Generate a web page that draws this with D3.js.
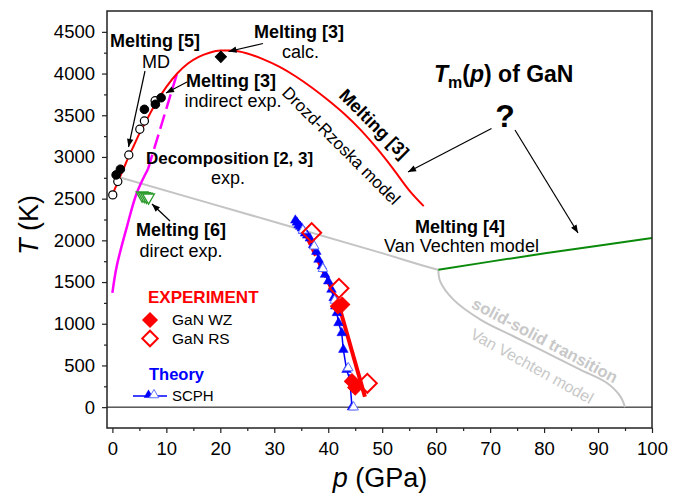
<!DOCTYPE html>
<html>
<head>
<meta charset="utf-8">
<script src="https://cdn.jsdelivr.net/npm/d3@7"></script>
<style>
body { margin: 0; background: #fff; }
text { font-family: "Liberation Sans", Arial, sans-serif; }
</style>
</head>
<body>
<div id="chart"></div>
<script>
const w = 681;
const h = 495;

// melting curve, Drozd-Rzoska model [3]
const drozdP = [0, 1, 2, 3, 4, 5, 6, 8, 10, 12, 14, 16, 18, 20, 22, 25, 28, 31, 34, 37, 40, 43, 46, 49, 52, 55, 57.7];
const drozdT = [2545, 2700, 2850, 3000, 3140, 3280, 3400, 3640, 3840, 4000, 4120, 4200, 4250, 4275, 4275, 4240, 4170, 4080, 3965, 3830, 3680, 3515, 3325, 3105, 2860, 2600, 2410];

// decomposition [2, 3]
const decompP = [0, 0.8, 2.7, 4.5, 6.6];
const decompT = [1370, 1690, 2165, 2565, 2855];
const decompDashP = [6.6, 12.0];
const decompDashT = [2855, 4005];

// Van Vechten model
const vvLowP = [0, 32, 49, 58, 60.4];
const vvLowT = [2780, 2184, 1865, 1690, 1648];
const ssP = [60.4, 60.75, 63.2, 68.2, 74.3, 80.5, 86.7, 91.6, 94.1, 95.0];
const ssT = [1648, 1508, 1289, 1050, 850, 651, 450, 292, 132, 0];
const vvMeltP = [60.4, 70, 80.5, 90, 100];
const vvMeltT = [1648, 1745, 1848, 1935, 2027];

// melting points
const mdP = [0.07, 1.0, 3.04, 5.08, 5.93, 7.92];
const mdT = [2545, 2705, 3024, 3332, 3431, 3674];
const indP = [0.69, 1.48, 5.93, 7.97, 9.03];
const indT = [2785, 2853, 3571, 3631, 3710];
const calcP = [20.1];
const calcT = [4200];
const directP = [5.5, 5.9, 6.3, 6.7];
const directT = [2540, 2532, 2525, 2515];

// experiment
const wzP = [41.8, 42.6, 44.4, 45.0];
const wzT = [1210, 1230, 310, 235];
const wzFitP = [41.87, 46.8];
const wzFitT = [1245, 125];
const rsFitP = [36.0, 41.87];
const rsFitT = [2044, 1245];
const rsP = [36.93, 41.99, 47.24];
const rsT = [2092, 1425, 286];

// theory, SCPH
const scphP = [33.9, 34.2, 34.5, 34.8, 35.1, 35.4, 35.7, 36.1, 36.6, 37.2, 37.8, 38.2, 38.8, 39.4, 40.0, 40.6, 41.0, 41.3, 41.6, 41.9, 42.5, 42.8, 43.4, 44.0, 44.4];
const scphT = [2240, 2215, 2185, 2165, 2145, 2115, 2085, 2060, 2025, 1945, 1865, 1770, 1690, 1590, 1510, 1410, 1310, 1210, 1130, 1010, 890, 690, 450, 330, 0];
const scphOpenP = [35.3, 37.4, 39.0, 41.2, 43.7, 44.7];
const scphOpenT = [2120, 1930, 1660, 1280, 470, 0];

const xTicks = [0, 10, 20, 30, 40, 50, 60, 70, 80, 90, 100];
const yTicks = [0, 500, 1000, 1500, 2000, 2500, 3000, 3500, 4000, 4500];

function zip(a, b) {
    return a.map(function(d, i) { return [d, b[i]]; });
}

var x = d3.scaleLinear().domain([-1, 100]).range([107, 652]);
var y = d3.scaleLinear().domain([-250, 4750]).range([428, 11]);

var svg = d3.select("#chart")
    .append("svg")
    .attr("width", w)
    .attr("height", h);

svg.append("defs").append("marker")
    .attr("id", "arrow")
    .attr("viewBox", "0 0 10 10")
    .attr("refX", 10).attr("refY", 5)
    .attr("markerUnits", "userSpaceOnUse")
    .attr("markerWidth", 10).attr("markerHeight", 8)
    .attr("orient", "auto")
    .append("path")
    .attr("d", "M0,1 L10,5 L0,9 Z")
    .attr("fill", "#000");

var line = d3.line().x(function(d) { return x(d[0]); }).y(function(d) { return y(d[1]); });
var smooth = d3.line().x(function(d) { return x(d[0]); }).y(function(d) { return y(d[1]); }).curve(d3.curveMonotoneX);
var smoothY = d3.line().x(function(d) { return x(d[0]); }).y(function(d) { return y(d[1]); }).curve(d3.curveCatmullRom);

function path(data, gen, color, width, dash) {
    svg.append("path")
        .attr("d", gen(data))
        .attr("fill", "none")
        .attr("stroke", color)
        .attr("stroke-width", width)
        .attr("stroke-dasharray", dash || null);
}

// zero line
path([[-1, 0], [100, 0]], line, "#000", 1);

path(zip(vvLowP, vvLowT), smoothY, "#c4c4c4", 2);
path(zip(ssP, ssT), smoothY, "#c4c4c4", 2);
path(zip(vvMeltP, vvMeltT), line, "#0a8a0a", 2);
path(zip(decompP, decompT), smoothY, "#ff00ff", 2.5);
path(zip(decompDashP, decompDashT), line, "#ff00ff", 2.5, "15,6");
path(zip(drozdP, drozdT), smooth, "#ff0000", 2);

function symbols(px, py, type, size, fill, stroke, sw, rot) {
    svg.append("g").selectAll("path")
        .data(zip(px, py))
        .enter()
        .append("path")
        .attr("transform", function(d) {
            return "translate(" + x(d[0]) + "," + y(d[1]) + ") rotate(" + (rot || 0) + ")";
        })
        .attr("d", d3.symbol().type(type).size(size))
        .attr("fill", fill)
        .attr("stroke", stroke)
        .attr("stroke-width", sw);
}

symbols(mdP, mdT, d3.symbolCircle, 52, "#fff", "#000", 1.2);
symbols(indP, indT, d3.symbolCircle, 58, "#000", "#000", 1);
symbols(calcP, calcT, d3.symbolSquare, 62, "#000", "#000", 1, 45);
symbols(directP, directT, d3.symbolTriangle, 60, "#fff", "#2a9a2a", 1.3, 180);

// experiment and theory near 40 GPa
path(zip(rsFitP, rsFitT), line, "#ff0000", 3.5, "9,3");
path(zip(wzFitP, wzFitT), line, "#ff0000", 4);
path(zip(scphP, scphT), line, "#0000ff", 1.5);
symbols(scphP, scphT, d3.symbolTriangle, 40, "#0000ff", "#0000ff", 0.5);
symbols(scphOpenP, scphOpenT, d3.symbolTriangle, 40, "#fff", "#6070ff", 1);
symbols(wzP, wzT, d3.symbolSquare, 112, "#ff0000", "#ff0000", 1, 45);
symbols(rsP, rsT, d3.symbolSquare, 180, "none", "#ff0000", 2, 45);

// annotations
var labels = [
    { x: 110, y: 47, t: "Melting [5]", b: true, a: "start" },
    { x: 156, y: 68, t: "MD", a: "middle" },
    { x: 254, y: 38, t: "Melting [3]", b: true, a: "start" },
    { x: 300.5, y: 58, t: "calc.", a: "middle" },
    { x: 186, y: 87, t: "Melting [3]", b: true, a: "start" },
    { x: 233, y: 107, t: "indirect exp.", a: "middle" },
    { x: 146, y: 164, t: "Decomposition [2, 3]", b: true, a: "start", s: 17 },
    { x: 228, y: 184, t: "exp.", a: "middle" },
    { x: 136, y: 236, t: "Melting [6]", b: true, a: "start" },
    { x: 181, y: 257, t: "direct exp.", a: "middle" },
    { x: 415, y: 232.5, t: "Melting [4]", b: true, a: "start" },
    { x: 461.5, y: 251.5, t: "Van Vechten model", a: "middle" }
];

svg.append("g").selectAll("text")
    .data(labels)
    .enter()
    .append("text")
    .attr("x", function(d) { return d.x; })
    .attr("y", function(d) { return d.y; })
    .attr("text-anchor", function(d) { return d.a; })
    .attr("font-weight", function(d) { return d.b ? "bold" : "normal"; })
    .attr("font-size", function(d) { return (d.s || 18) + "px"; })
    .text(function(d) { return d.t; });

// rotated labels
svg.append("text")
    .attr("transform", "translate(374,124) rotate(45)")
    .attr("text-anchor", "middle").attr("dominant-baseline", "central")
    .attr("font-weight", "bold").attr("font-size", "18px")
    .text("Melting [3]");
svg.append("text")
    .attr("transform", "translate(341,146) rotate(45)")
    .attr("text-anchor", "middle").attr("dominant-baseline", "central")
    .attr("font-size", "17px")
    .text("Drozd-Rzoska model");
svg.append("text")
    .attr("transform", "translate(545,340) rotate(28)")
    .attr("text-anchor", "middle").attr("dominant-baseline", "central")
    .attr("font-weight", "bold").attr("font-size", "16.5px").attr("fill", "#c8c8c8")
    .text("solid-solid transition");
svg.append("text")
    .attr("transform", "translate(532,366) rotate(29)")
    .attr("text-anchor", "middle").attr("dominant-baseline", "central")
    .attr("font-size", "16px").attr("fill", "#c8c8c8")
    .text("Van Vechten model");

// title and question mark
var title = svg.append("text")
    .attr("x", 434).attr("y", 81.5)
    .attr("font-weight", "bold").attr("font-size", "23px");
title.append("tspan").attr("font-style", "italic").text("T");
title.append("tspan").attr("font-size", "16px").attr("dy", 6).text("m");
title.append("tspan").attr("dy", -6).text("(");
title.append("tspan").attr("font-style", "italic").text("p");
title.append("tspan").text(") of GaN");

svg.append("text")
    .attr("x", 505).attr("y", 126.5)
    .attr("text-anchor", "middle")
    .attr("font-weight", "bold").attr("font-size", "32px")
    .text("?");

var arrows = [
    [145, 71, 128.5, 147],
    [263, 43.5, 228.5, 51.5],
    [187, 82, 166, 93],
    [170, 221, 152, 204],
    [491.5, 128.5, 408, 172],
    [515, 130, 578, 233]
];
svg.append("g").selectAll("line")
    .data(arrows)
    .enter()
    .append("line")
    .attr("x1", function(d) { return d[0]; })
    .attr("y1", function(d) { return d[1]; })
    .attr("x2", function(d) { return d[2]; })
    .attr("y2", function(d) { return d[3]; })
    .attr("stroke", "#000")
    .attr("stroke-width", 1.2)
    .attr("marker-end", "url(#arrow)");

// legend
var lg = svg.append("g");
lg.append("text").attr("x", 148).attr("y", 302.5)
    .attr("font-weight", "bold").attr("font-size", "17px").attr("fill", "#ff0000")
    .text("EXPERIMENT");
lg.append("path").attr("transform", "translate(150,320) rotate(45)")
    .attr("d", d3.symbol().type(d3.symbolSquare).size(130)).attr("fill", "#ff0000");
lg.append("text").attr("x", 172).attr("y", 325).attr("font-size", "15.5px").text("GaN WZ");
lg.append("path").attr("transform", "translate(150,338.5) rotate(45)")
    .attr("d", d3.symbol().type(d3.symbolSquare).size(120)).attr("fill", "none")
    .attr("stroke", "#ff0000").attr("stroke-width", 2);
lg.append("text").attr("x", 172).attr("y", 343.5).attr("font-size", "15.5px").text("GaN RS");
lg.append("text").attr("x", 149).attr("y", 380)
    .attr("font-weight", "bold").attr("font-size", "16.5px").attr("fill", "#0000ff")
    .text("Theory");
lg.append("line").attr("x1", 133).attr("x2", 167).attr("y1", 396).attr("y2", 396)
    .attr("stroke", "#0000ff").attr("stroke-width", 1.5);
lg.append("path").attr("transform", "translate(148.5,395)")
    .attr("d", d3.symbol().type(d3.symbolTriangle).size(40)).attr("fill", "#0000ff");
lg.append("path").attr("transform", "translate(154,395)")
    .attr("d", d3.symbol().type(d3.symbolTriangle).size(40)).attr("fill", "#fff")
    .attr("stroke", "#6070ff").attr("stroke-width", 1);
lg.append("text").attr("x", 172).attr("y", 401).attr("font-size", "15px").text("SCPH");

// frame
svg.append("rect")
    .attr("x", 107).attr("y", 11)
    .attr("width", 545).attr("height", 417)
    .attr("fill", "none").attr("stroke", "#222").attr("stroke-width", 1.5);

// axes
var xAxis = svg.append("g").attr("transform", "translate(0,428)")
    .call(d3.axisBottom(x).tickValues(xTicks).tickSize(5).tickPadding(9).tickFormat(d3.format("d")));
var xMinor = svg.append("g").attr("transform", "translate(0,428)")
    .call(d3.axisBottom(x).tickValues(d3.range(5, 100, 10)).tickSize(3).tickFormat(""));
var yAxis = svg.append("g").attr("transform", "translate(107,0)")
    .call(d3.axisLeft(y).tickValues(yTicks).tickSize(5).tickPadding(7).tickFormat(d3.format("d")));
var yMinor = svg.append("g").attr("transform", "translate(107,0)")
    .call(d3.axisLeft(y).tickValues(d3.range(250, 4750, 500)).tickSize(3).tickFormat(""));

[xAxis, xMinor, yAxis, yMinor].forEach(function(g) {
    g.select(".domain").remove();
    g.selectAll("line").attr("stroke", "#222").attr("stroke-width", 1.2);
    g.selectAll("text").attr("font-size", "18.5px").attr("fill", "#000")
        .attr("font-family", "'Liberation Sans', Arial, sans-serif");
});

var xLabel = svg.append("text")
    .attr("x", 380).attr("y", 487)
    .attr("text-anchor", "middle").attr("font-size", "27px");
xLabel.append("tspan").attr("font-style", "italic").text("p");
xLabel.append("tspan").text(" (GPa)");

var yLabel = svg.append("text")
    .attr("transform", "translate(38,225) rotate(-90)")
    .attr("text-anchor", "middle").attr("font-size", "27px");
yLabel.append("tspan").attr("font-style", "italic").text("T");
yLabel.append("tspan").text(" (K)");
</script>
</body>
</html>
